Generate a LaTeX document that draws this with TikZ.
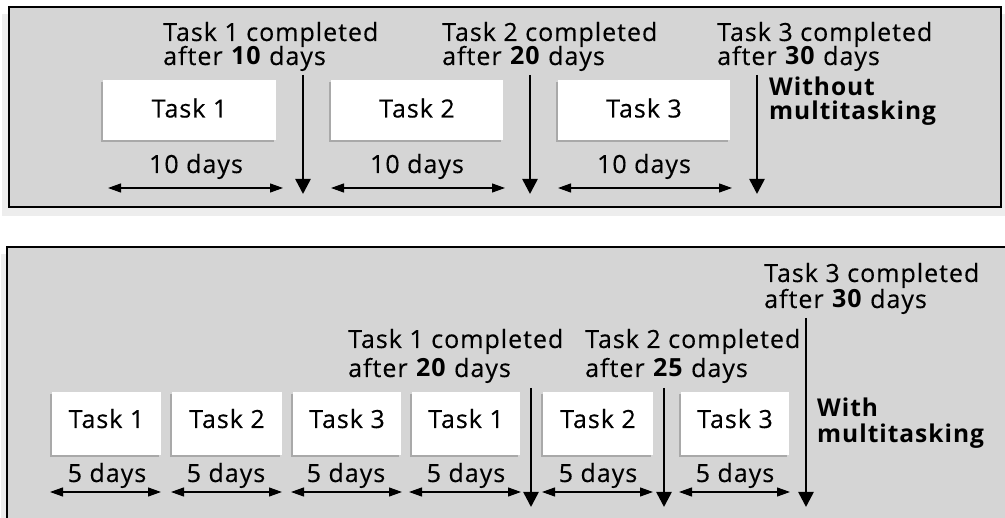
\documentclass[tikz,border=0pt]{standalone}
\usepackage{fontspec}
\setmainfont{Open Sans}[LetterSpace=4, FakeBold=0.35, BoldFeatures={FakeBold=0}]
\usetikzlibrary{arrows.meta,calc}
\definecolor{panelgray}{HTML}{D5D5D5}
\definecolor{shadowgray}{HTML}{A9A9A9}
\definecolor{haze}{HTML}{EDEDED}
\tikzset{
  panel/.style={draw=black, line width=1.2pt, fill=panelgray},
  txt/.style={inner sep=0pt, anchor=base west, font=\fontsize{25}{26}\selectfont},
  upper/.style={txt, text depth=0pt},
  ctxt/.style={inner sep=0pt, anchor=base, font=\fontsize{25}{26}\selectfont},
  heading/.style={txt, font=\fontsize{24.5}{26}\selectfont\bfseries},
  dur/.style={line width=1.2pt, {Triangle[length=13pt,width=9pt]}-{Triangle[length=13pt,width=9pt]}},
  done/.style={line width=2.6pt, -{Triangle[length=15pt,width=15pt]}}
}
\newcommand{\taskrect}[5]{%
  % #1 name, #2 x0, #3 y0, #4 x1, #5 y1
  \fill[shadowgray] (#2-2.5,#3+2.5) rectangle (#4-2.5,#5+2.5);
  \fill[white] (#2,#3) rectangle (#4,#5);
  \coordinate (#1) at ({(#2+#4)/2},{(#3+#5)/2});
}
\begin{document}
\begin{tikzpicture}[x=1pt,y=-1pt]
\useasboundingbox (0,0) rectangle (1005,518);

% soft shadows under the panels
\fill[haze] (2,14) rectangle (1005,216);
\fill[haze] (1,254) rectangle (1005,530);

% ---------------- without multitasking ----------------
\draw[panel] (9,7) rectangle (1001,207);

\taskrect{A1}{103}{80}{276}{140}
\taskrect{A2}{331}{80}{503}{140}
\taskrect{A3}{558}{80}{730}{140}
\node[ctxt] (a1) at ($(A1)+(0,7.5)$) {Task 1};
\node[ctxt] (a2) at ($(A2)+(0,7.5)$) {Task 2};
\node[ctxt] (a3) at ($(A3)+(0,7.5)$) {Task 3};

\node[ctxt] (ad1) at (196,173) {10 days};
\node[ctxt] (ad2) at (417,173) {10 days};
\node[ctxt] (ad3) at (644,173) {10 days};

\coordinate (ar1a) at (108,188); \coordinate (ar1b) at (283,188);
\coordinate (ar2a) at (331,188); \coordinate (ar2b) at (505,188);
\coordinate (ar3a) at (558,188); \coordinate (ar3b) at (732,188);
\draw[dur] (ar1a) -- (ar1b);
\draw[dur] (ar2a) -- (ar2b);
\draw[dur] (ar3a) -- (ar3b);

\node[upper] (ac1a) at (163,41) {Task 1 completed};
\node[txt] (ac1b) at (163,65) {after \textbf{10} days};
\node[upper] (ac2a) at (442,41) {Task 2 completed};
\node[txt] (ac2b) at (442,65) {after \textbf{20} days};
\node[upper] (ac3a) at (717,41) {Task 3 completed};
\node[txt] (ac3b) at (717,65) {after \textbf{30} days};

\coordinate (av1a) at (303,75); \coordinate (av1b) at (303,194);
\coordinate (av2a) at (530,75); \coordinate (av2b) at (530,194);
\coordinate (av3a) at (757,75); \coordinate (av3b) at (757,194);
\draw[done] (av1a) -- (av1b);
\draw[done] (av2a) -- (av2b);
\draw[done] (av3a) -- (av3b);

\node[heading, text depth=0pt] (wo1) at (769,96) {Without};
\node[heading] (wo2) at (769,120) {multitasking};

% ---------------- with multitasking ----------------
\draw[panel] (7,247) rectangle (1012,530);

\taskrect{B1}{52}{392}{161}{455}
\taskrect{B2}{172}{392}{282}{455}
\taskrect{B3}{293}{392}{401}{455}
\taskrect{B4}{412}{392}{520}{455}
\taskrect{B5}{543}{392}{653}{455}
\taskrect{B6}{681}{392}{789}{455}
\node[ctxt] (b1) at ($(B1)+(0,4.5)$) {Task 1};
\node[ctxt] (b2) at ($(B2)+(0,4.5)$) {Task 2};
\node[ctxt] (b3) at ($(B3)+(0,4.5)$) {Task 3};
\node[ctxt] (b4) at ($(B4)+(0,4.5)$) {Task 1};
\node[ctxt] (b5) at ($(B5)+(0,4.5)$) {Task 2};
\node[ctxt] (b6) at ($(B6)+(0,4.5)$) {Task 3};

\node[ctxt] (bd1) at (107,482) {5 days};
\node[ctxt] (bd2) at (226,482) {5 days};
\node[ctxt] (bd3) at (346,482) {5 days};
\node[ctxt] (bd4) at (466,482) {5 days};
\node[ctxt] (bd5) at (598,482) {5 days};
\node[ctxt] (bd6) at (735,482) {5 days};

\coordinate (br1a) at (50,492);  \coordinate (br1b) at (161,492);
\coordinate (br2a) at (171,492); \coordinate (br2b) at (282,492);
\coordinate (br3a) at (291,492); \coordinate (br3b) at (402,492);
\coordinate (br4a) at (409,492); \coordinate (br4b) at (521,492);
\coordinate (br5a) at (542,492); \coordinate (br5b) at (653,492);
\coordinate (br6a) at (679,492); \coordinate (br6b) at (790,492);
\draw[dur] (br1a) -- (br1b);
\draw[dur] (br2a) -- (br2b);
\draw[dur] (br3a) -- (br3b);
\draw[dur] (br4a) -- (br4b);
\draw[dur] (br5a) -- (br5b);
\draw[dur] (br6a) -- (br6b);

\node[upper] (bc1a) at (348,348) {Task 1 completed};
\node[txt] (bc1b) at (348,377) {after \textbf{20} days};
\node[upper] (bc2a) at (585,348) {Task 2 completed};
\node[txt] (bc2b) at (585,377) {after \textbf{25} days};
\node[upper] (bc3a) at (764,282) {Task 3 completed};
\node[txt] (bc3b) at (764,308) {after \textbf{30} days};

\coordinate (bv1a) at (531,388); \coordinate (bv1b) at (531,507);
\coordinate (bv2a) at (664,388); \coordinate (bv2b) at (664,507);
\coordinate (bv3a) at (806,318); \coordinate (bv3b) at (806,507);
\draw[done] (bv1a) -- (bv1b);
\draw[done] (bv2a) -- (bv2b);
\draw[done] (bv3a) -- (bv3b);

\node[heading, text depth=0pt] (wi1) at (817,417) {With};
\node[heading] (wi2) at (817,443) {multitasking};
\end{tikzpicture}
\end{document}
